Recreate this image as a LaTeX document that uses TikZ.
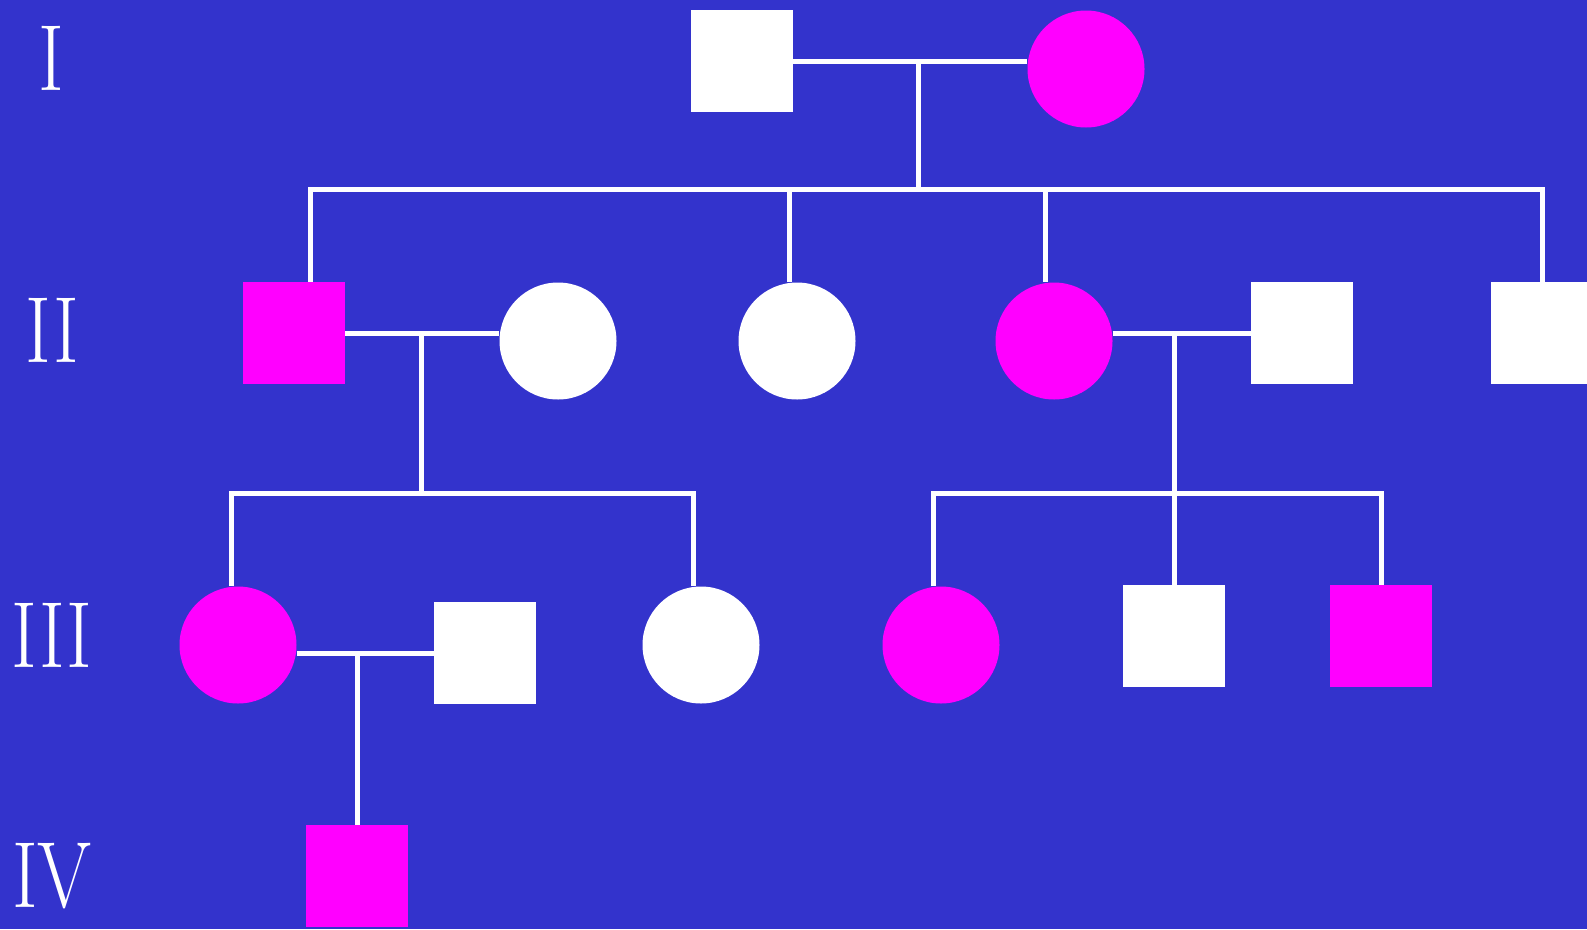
\documentclass[tikz,border=0pt]{standalone}
\usepackage{tikz}
\definecolor{tausta}{RGB}{51,51,204}
\definecolor{sairas}{RGB}{255,0,255}

\begin{document}
\begin{tikzpicture}[x=1pt,y=-1pt,
  sq/.style={rectangle, inner sep=0pt, minimum size=102pt},
  ci/.style={circle, inner sep=0pt, minimum size=117pt},
  link/.style={draw=white, line width=5pt},
  gen/.style={text=white, anchor=base, xscale=0.83, font=\fontsize{94}{94}\selectfont}]
\fill[tausta] (0,0) rectangle (1587,929);
\useasboundingbox (0,0) rectangle (1587,929);

\node[gen] (g1) at (51,90) {I};
\node[gen] (g2) at (52,362) {II};
\node[gen] (g3) at (52,667) {III};
\node[gen] (g4) at (52,907) {IV};

\node[sq, fill=white] (11) at (742,61) {};
\node[ci, fill=sairas] (12) at (1086,69) {};

\node[sq, fill=sairas] (21) at (294,333) {};
\node[ci, fill=white] (22) at (558,341) {};
\node[ci, fill=white] (23) at (797,341) {};
\node[ci, fill=sairas] (24) at (1054,341) {};
\node[sq, fill=white] (25) at (1302,333) {};
\node[sq, fill=white] (26) at (1542,333) {};

\node[ci, fill=sairas] (31) at (238,645) {};
\node[sq, fill=white] (32) at (485,653) {};
\node[ci, fill=white] (33) at (701,645) {};
\node[ci, fill=sairas] (34) at (941,645) {};
\node[sq, fill=white] (35) at (1174,636) {};
\node[sq, fill=sairas] (36) at (1381,636) {};

\node[sq, fill=sairas] (41) at (357,876) {};

\coordinate (m1) at (918,61);
\coordinate (s1) at (918,189);
\coordinate (k21) at (310,189);
\coordinate (k23) at (789,189);
\coordinate (k24) at (1045,189);
\coordinate (k26) at (1542,189);
\path[link] (11.east) -- (11.east -| 12.west);
\path[link] (m1) -- (s1);
\path[link] (k21 |- 21.north) -- (k21) -- (k26) -- (k26 |- 26.north);
\foreach \c in {23,24}
  \path[link] (k\c) -- (k\c |- \c.north);

\coordinate (m2) at (421,333);
\coordinate (s2) at (421,493);
\coordinate (k31) at (231,493);
\coordinate (k33) at (693,493);
\path[link] (21.east) -- (21.east -| 22.west);
\path[link] (m2) -- (s2);
\path[link] (k31 |- 31.north) -- (k31) -- (k33) -- (k33 |- 33.north);

\coordinate (m3) at (1174,333);
\coordinate (s3) at (1174,493);
\coordinate (k34) at (933,493);
\coordinate (k36) at (1381,493);
\path[link] (24.east |- 25.west) -- (25.west);
\path[link] (m3) -- (s3) -- (35.north);
\path[link] (k34 |- 34.north) -- (k34) -- (k36) -- (k36 |- 36.north);

\coordinate (m4) at (357,653);
\path[link] (31.east |- 32.west) -- (32.west);
\path[link] (m4) -- (41.north);
\end{tikzpicture}
\end{document}
